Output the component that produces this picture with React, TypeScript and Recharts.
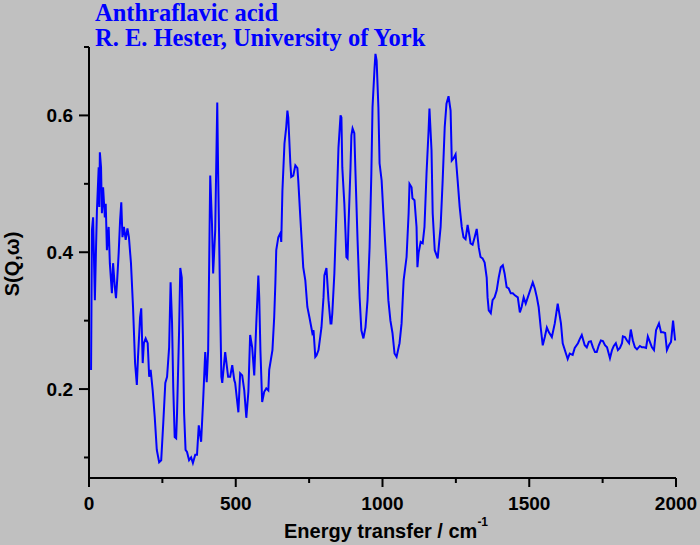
import React from 'react';
import { LineChart, Line, XAxis, YAxis } from 'recharts';

const energy = [
  7, 10, 14, 20, 24, 27, 33, 35, 37, 41, 44, 48, 54, 57, 61, 67, 71, 78, 82, 88,
  92, 96, 101, 106, 110, 114, 119, 125, 131, 136, 143, 150, 157, 163, 167, 174, 178, 183, 187, 193,
  200, 205, 210, 217, 224, 231, 239, 246, 253, 260, 266, 273, 278, 283, 287, 292, 297, 300, 307, 311,
  316, 320, 324, 329, 334, 341, 348, 354, 362, 368, 374, 382, 389, 396, 401, 406, 413, 419, 423, 430,
  437, 440, 447, 451, 454, 464, 474, 481, 488, 495, 498, 509, 515, 522, 529, 536, 543, 549, 556, 563,
  570, 577, 580, 584, 590, 597, 604, 611, 614, 625, 631, 635, 638, 645, 652, 655, 659, 666, 672, 676,
  679, 686, 689, 696, 703, 710, 713, 720, 730, 737, 744, 751, 761, 765, 771, 775, 782, 792, 799, 802,
  809, 816, 823, 826, 829, 836, 843, 850, 857, 860, 863, 870, 874, 877, 881, 884, 891, 894, 898, 904,
  908, 915, 922, 928, 935, 942, 949, 956, 962, 966, 973, 976, 980, 986, 990, 997, 1003, 1014, 1020, 1027,
  1034, 1041, 1048, 1055, 1058, 1065, 1072, 1082, 1089, 1092, 1099, 1102, 1109, 1116, 1119, 1123, 1130, 1137, 1143, 1150,
  1157, 1160, 1167, 1171, 1178, 1188, 1198, 1205, 1212, 1218, 1225, 1232, 1236, 1242, 1249, 1256, 1263, 1270, 1276, 1283,
  1290, 1297, 1300, 1307, 1314, 1321, 1328, 1334, 1341, 1348, 1355, 1358, 1362, 1369, 1375, 1382, 1389, 1396, 1403, 1410,
  1416, 1423, 1430, 1437, 1444, 1451, 1461, 1468, 1474, 1481, 1488, 1495, 1505, 1512, 1519, 1526, 1532, 1539, 1546, 1553,
  1560, 1567, 1577, 1587, 1597, 1608, 1614, 1625, 1631, 1638, 1648, 1655, 1666, 1672, 1679, 1689, 1696, 1703, 1710, 1717,
  1724, 1730, 1737, 1744, 1751, 1758, 1765, 1775, 1782, 1788, 1795, 1802, 1809, 1816, 1819, 1826, 1833, 1840, 1846, 1853,
  1860, 1867, 1877, 1884, 1891, 1898, 1904, 1911, 1918, 1925, 1932, 1939, 1942, 1949, 1956, 1963, 1969, 1976, 1983, 1990,
  1997,
];

const intensity = [
  0.228, 0.432, 0.451, 0.33, 0.407, 0.461, 0.524, 0.466, 0.546, 0.524, 0.457, 0.495, 0.451, 0.471, 0.403, 0.437, 0.384, 0.34, 0.384, 0.349,
  0.333, 0.359, 0.398, 0.447, 0.473, 0.422, 0.437, 0.418, 0.435, 0.422, 0.384, 0.32, 0.238, 0.206, 0.247, 0.305, 0.318, 0.238, 0.267, 0.274,
  0.267, 0.218, 0.228, 0.198, 0.159, 0.111, 0.093, 0.096, 0.15, 0.209, 0.218, 0.261, 0.356, 0.296, 0.203, 0.13, 0.128, 0.165, 0.286, 0.377,
  0.363, 0.276, 0.165, 0.111, 0.108, 0.096, 0.1, 0.092, 0.104, 0.104, 0.147, 0.123, 0.184, 0.254, 0.21, 0.257, 0.512, 0.442, 0.369, 0.432,
  0.619, 0.515, 0.32, 0.218, 0.209, 0.254, 0.218, 0.218, 0.235, 0.213, 0.209, 0.166, 0.223, 0.22, 0.198, 0.158, 0.196, 0.279, 0.261, 0.22,
  0.296, 0.366, 0.334, 0.257, 0.181, 0.196, 0.201, 0.198, 0.228, 0.257, 0.305, 0.355, 0.403, 0.422, 0.428, 0.415, 0.49, 0.559, 0.583, 0.607,
  0.597, 0.53, 0.51, 0.512, 0.527, 0.523, 0.505, 0.451, 0.378, 0.359, 0.32, 0.305, 0.282, 0.286, 0.247, 0.249, 0.257, 0.29, 0.334, 0.366,
  0.377, 0.33, 0.296, 0.296, 0.311, 0.369, 0.457, 0.553, 0.6, 0.597, 0.524, 0.471, 0.428, 0.393, 0.391, 0.437, 0.524, 0.571, 0.581, 0.574,
  0.515, 0.418, 0.334, 0.286, 0.274, 0.29, 0.33, 0.407, 0.515, 0.612, 0.67, 0.69, 0.68, 0.612, 0.53, 0.505, 0.457, 0.378, 0.33, 0.3,
  0.282, 0.252, 0.247, 0.261, 0.267, 0.296, 0.359, 0.393, 0.457, 0.5, 0.495, 0.479, 0.476, 0.437, 0.378, 0.399, 0.415, 0.413, 0.437, 0.515,
  0.578, 0.61, 0.549, 0.457, 0.403, 0.391, 0.437, 0.505, 0.583, 0.617, 0.628, 0.607, 0.534, 0.537, 0.543, 0.505, 0.466, 0.437, 0.422, 0.419,
  0.44, 0.422, 0.413, 0.411, 0.422, 0.434, 0.407, 0.393, 0.391, 0.385, 0.363, 0.334, 0.315, 0.311, 0.33, 0.334, 0.344, 0.363, 0.378, 0.381,
  0.369, 0.349, 0.347, 0.34, 0.34, 0.337, 0.334, 0.312, 0.32, 0.334, 0.325, 0.334, 0.347, 0.356, 0.347, 0.334, 0.32, 0.29, 0.264, 0.276,
  0.29, 0.283, 0.276, 0.296, 0.325, 0.296, 0.267, 0.252, 0.244, 0.252, 0.25, 0.26, 0.267, 0.273, 0.279, 0.264, 0.261, 0.269, 0.27, 0.261,
  0.254, 0.254, 0.264, 0.271, 0.27, 0.264, 0.261, 0.245, 0.257, 0.263, 0.267, 0.257, 0.26, 0.267, 0.277, 0.276, 0.271, 0.267, 0.287, 0.271,
  0.261, 0.258, 0.263, 0.261, 0.261, 0.26, 0.277, 0.269, 0.261, 0.257, 0.286, 0.293, 0.296, 0.283, 0.283, 0.282, 0.257, 0.264, 0.269, 0.3,
  0.271,
];

const xTicks = [0, 250, 500, 750, 1000, 1250, 1500, 1750, 2000];
const xLabeledTicks = [0, 500, 1000, 1500, 2000];
const yTicks = [0.1, 0.2, 0.3, 0.4, 0.5, 0.6, 0.7];
const yLabeledTicks = [0.2, 0.4, 0.6];
const titleLines = ['Anthraflavic acid', 'R. E. Hester, University of York'];
const xAxisTitle = 'Energy transfer / cm';
const xAxisTitleSup = '-1';
const yAxisTitle = 'S(Q,ω)';

const data = energy.map((e, i) => ({ e, s: intensity[i] }));

const sansFont = "'Liberation Sans', Arial, sans-serif";
const serifFont = "'Liberation Serif', 'Times New Roman', serif";

const XTick = (props: any) => {
  const { x, y, payload } = props;
  const major = xLabeledTicks.includes(payload.value);
  return (
    <g>
      <line x1={x} x2={x} y1={y} y2={y + (major ? 9 : 5)} stroke="#000" strokeWidth={2} />
      {major && (
        <text x={x} y={y + 32} textAnchor="middle" fontFamily={sansFont} fontWeight="bold" fontSize={19} fill="#000">
          {payload.value}
        </text>
      )}
    </g>
  );
};

const YTick = (props: any) => {
  const { x, y, payload } = props;
  const major = yLabeledTicks.some((t) => Math.abs(t - payload.value) < 1e-6);
  return (
    <g>
      <line x1={x - (major ? 10 : 5)} x2={x} y1={y} y2={y} stroke="#000" strokeWidth={2} />
      {major && (
        <text x={x - 16} y={y + 7} textAnchor="end" fontFamily={sansFont} fontWeight="bold" fontSize={19} fill="#000">
          {payload.value.toFixed(1)}
        </text>
      )}
    </g>
  );
};

export default function App() {
  return (
    <div style={{ position: 'absolute', left: 0, top: 0, width: 700, height: 545, background: '#c0c0c0' }}>
      <LineChart width={700} height={545} data={data} margin={{ top: 47, right: 24, bottom: 0, left: 0 }}>
        <XAxis
          dataKey="e"
          type="number"
          domain={[0, 2000]}
          ticks={xTicks}
          interval={0}
          tickSize={0}
          tickMargin={0}
          height={67}
          axisLine={{ stroke: '#000', strokeWidth: 2 }}
          tickLine={false}
          tick={<XTick />}
        />
        <YAxis
          type="number"
          domain={[0.07, 0.7]}
          ticks={yTicks}
          interval={0}
          tickSize={0}
          tickMargin={0}
          width={89}
          allowDataOverflow
          axisLine={{ stroke: '#000', strokeWidth: 2 }}
          tickLine={false}
          tick={<YTick />}
        />
        <Line
          type="linear"
          dataKey="s"
          stroke="#0000ff"
          strokeWidth={2}
          dot={false}
          isAnimationActive={false}
        />
      </LineChart>
      <svg width={700} height={545} style={{ position: 'absolute', left: 0, top: 0, pointerEvents: 'none' }}>
        <text x={95} y={21} fontFamily={serifFont} fontWeight="bold" fontSize={24.5} fill="#0000ff">
          {titleLines[0]}
        </text>
        <text x={95} y={46} fontFamily={serifFont} fontWeight="bold" fontSize={24.5} fill="#0000ff">
          {titleLines[1]}
        </text>
        <text x={386} y={538} textAnchor="middle" fontFamily={sansFont} fontWeight="bold" fontSize={20} fill="#000">
          <tspan>{xAxisTitle}</tspan>
          <tspan dy={-12} fontSize={12}>{xAxisTitleSup}</tspan>
        </text>
        <text
          x={19}
          y={264}
          textAnchor="middle"
          transform="rotate(-90 19 264)"
          fontFamily={sansFont}
          fontWeight="bold"
          fontSize={20}
          fill="#000"
        >
          {yAxisTitle}
        </text>
      </svg>
    </div>
  );
}
